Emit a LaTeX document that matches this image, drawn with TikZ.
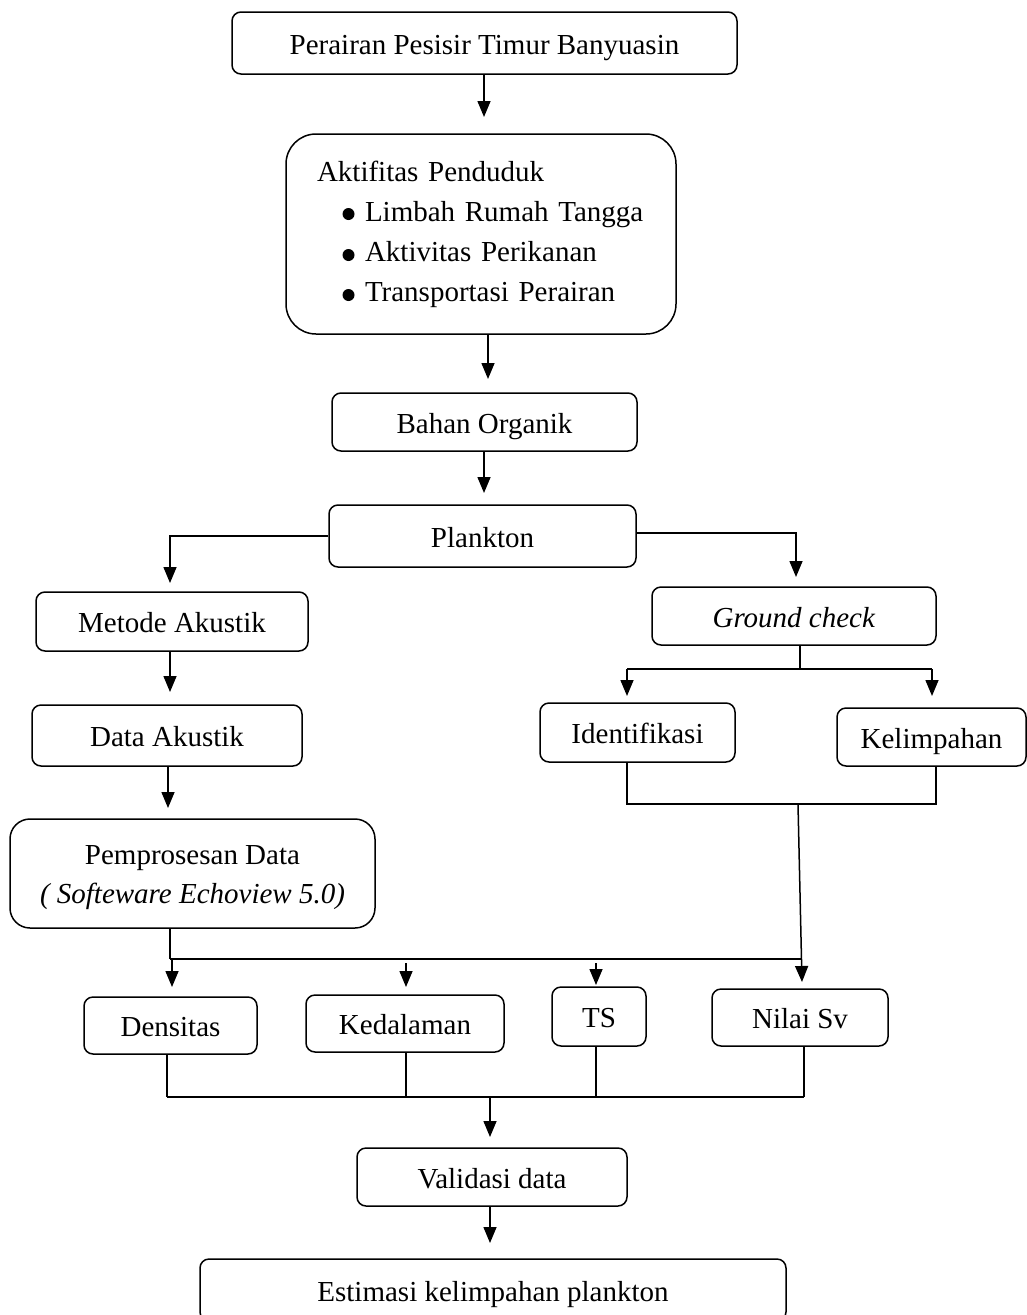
\documentclass[tikz,border=0pt]{standalone}
\usepackage{fontspec}
\setmainfont{Liberation Serif}
\usetikzlibrary{arrows.meta,calc}
\begin{document}
\begin{tikzpicture}[x=1pt,y=-1pt,
  frame/.style={draw, line width=1.5pt, rounded corners=9pt, inner sep=0pt,
    font=\fontsize{29}{40}\selectfont, align=center},
  box/.style={frame, text height=26pt, text depth=4pt},
  conn/.style={line width=1.5pt},
  bus/.style={line width=2.5pt},
  arr/.style={line width=1.5pt, -{Triangle[length=16pt,width=13pt]}}]
\useasboundingbox (0,0) rectangle (1027,1315);

% boxes
\node[box, minimum width=505pt, minimum height=62pt] (b1) at (484.5,43) {Perairan Pesisir Timur Banyuasin};
\node[frame, rounded corners=30pt, text width=328pt, inner xsep=31pt, minimum height=200pt, align=left] (b2) at (481,234)
  {Aktifitas Penduduk\\
   \hspace*{48pt}Limbah Rumah Tangga\\
   \hspace*{48pt}Aktivitas Perikanan\\
   \hspace*{48pt}Transportasi Perairan};
\fill (348.5,214) circle (6);
\fill (348.5,255) circle (6);
\fill (348.5,295) circle (6);
\node[box, minimum width=305pt, minimum height=58pt] (b3) at (484.5,422) {Bahan Organik};
\node[box, minimum width=307pt, minimum height=62pt] (b4) at (482.5,536) {Plankton};
\node[box, minimum width=272pt, minimum height=59pt] (metode) at (172,621.5) {Metode Akustik};
\node[box, minimum width=270pt, minimum height=61pt] (data) at (167,735.5) {Data Akustik};
\node[box, minimum width=284pt, minimum height=58pt] (ground) at (794,616) {\textit{Ground check}};
\node[box, minimum width=195pt, minimum height=59pt] (ident) at (637.5,732.5) {Identifikasi};
\node[box, minimum width=189pt, minimum height=58pt] (kelim) at (931.5,737) {Kelimpahan};
\node[frame, rounded corners=20pt, minimum width=365pt, minimum height=109pt] (pemp) at (192.5,873.5) {};
\node[font=\fontsize{29}{39}\selectfont, align=center, inner sep=0pt] (pempt) at (192.5,878)
  {Pemprosesan Data\\ \textit{( Softeware Echoview 5.0)}};
\node[box, minimum width=173pt, minimum height=57pt] (dens) at (170.5,1025.5) {Densitas};
\node[box, minimum width=198pt, minimum height=57pt] (kedal) at (405,1023.5) {Kedalaman};
\node[box, minimum width=94pt, minimum height=59pt] (ts) at (599,1016.5) {TS};
\node[box, minimum width=176pt, minimum height=57pt] (nilai) at (800,1017.5) {Nilai Sv};
\node[box, minimum width=270pt, minimum height=58pt] (valid) at (492,1177) {Validasi data};
\node[box, minimum width=586pt, minimum height=62pt] (estim) at (493,1290) {Estimasi kelimpahan plankton};

% main column
\coordinate (t1) at (484,117);
\draw[arr] (t1 |- b1.south) -- (t1);
\coordinate (t2) at (488,379);
\draw[arr] (t2 |- b2.south) -- (t2);
\coordinate (t3) at (484,493);
\draw[arr] (t3 |- b3.south) -- (t3);

% plankton branches
\coordinate (t4) at (170,583);
\draw[arr] (b4.west) -| (t4);
\coordinate (t5) at (796,577);
\draw[arr] ([yshift=3pt]b4.east) -| (t5);

% left column
\coordinate (t6) at (170,692);
\draw[arr] (t6 |- metode.south) -- (t6);
\coordinate (t7) at (168,808);
\draw[arr] (t7 |- data.south) -- (t7);

% ground check split
\coordinate (g0) at (800,669);
\coordinate (t8) at (627,696);
\coordinate (t9) at (932,696);
\draw[conn] (g0 |- ground.south) -- (g0);
\draw[bus] (t8 |- g0) -- (t9 |- g0);
\draw[arr] (t8 |- g0) -- (t8);
\draw[arr] (t9 |- g0) -- (t9);

% ident / kelim merge
\coordinate (j1) at (627,804);
\coordinate (j2) at (936,804);
\coordinate (j3) at (798,804);
\draw[conn] (j1 |- ident.south) -- (j1) -- (j2) -- (j2 |- kelim.south);
\coordinate (t10) at (802,982);
\draw[arr] (j3) -- (t10);

% pemprosesan split
\coordinate (p0) at (170,959);
\coordinate (p1) at (802,959);
\draw[conn] (p0 |- pemp.south) -- (p0);
\draw[bus] (p0) -- (p1);
\coordinate (t11) at (172,987);
\draw[arr] (t11 |- p0) -- (t11);
\coordinate (s12) at (406,963);
\coordinate (t12) at (406,987);
\draw[arr] (s12) -- (t12);
\coordinate (s13) at (596,963);
\coordinate (t13) at (596,985);
\draw[arr] (s13) -- (t13);

% bottom merge
\coordinate (q1) at (167,1097);
\coordinate (q2) at (406,1097);
\coordinate (q3) at (596,1097);
\coordinate (q4) at (804,1097);
\draw[conn] (q1 |- dens.south) -- (q1);
\draw[conn] (q2 |- kedal.south) -- (q2);
\draw[conn] (q3 |- ts.south) -- (q3);
\draw[conn] (q4 |- nilai.south) -- (q4);
\draw[bus] (q1) -- (q4);
\coordinate (t14) at (490,1137);
\draw[arr] (t14 |- q1) -- (t14);
\coordinate (t15) at (490,1243);
\draw[arr] (t15 |- valid.south) -- (t15);
\end{tikzpicture}
\end{document}
